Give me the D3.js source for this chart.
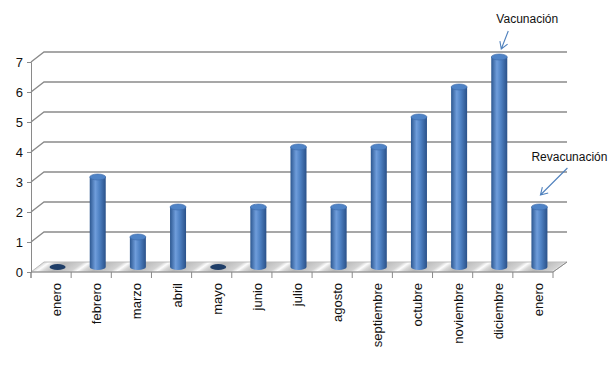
<!DOCTYPE html>
<html>
<head>
<meta charset="utf-8">
<script src="https://cdn.jsdelivr.net/npm/d3@7"></script>
<style>
  body { margin: 0; background: #fff; }
  svg { display: block; font-family: "Liberation Sans", Arial, sans-serif; }
</style>
</head>
<body>
<svg id="chart" width="610" height="388"></svg>
<script>
const months = ['enero', 'febrero', 'marzo', 'abril', 'mayo', 'junio', 'julio',
  'agosto', 'septiembre', 'octubre', 'noviembre', 'diciembre', 'enero'];
const counts = [0, 3, 1, 2, 0, 2, 4, 2, 4, 5, 6, 7, 2];
const yTicks = [0, 1, 2, 3, 4, 5, 6, 7];
const notes = [
  { text: 'Vacunación', index: 11 },
  { text: 'Revacunación', index: 12 },
];

const svg = d3.select('#chart');
const plotLeft = 31, plotRight = 553, plotTop = 62, plotBottom = 272;
const dx = 13, dy = -10; // depth offset of the back wall

const x = d3.scaleBand().domain(d3.range(months.length)).range([plotLeft, plotRight]);
const y = d3.scaleLinear().domain([0, 7]).range([plotBottom, plotTop]);

const defs = svg.append('defs');
const cyl = defs.append('linearGradient').attr('id', 'cyl');
cyl.append('stop').attr('offset', '0%').attr('stop-color', '#2c5790');
cyl.append('stop').attr('offset', '35%').attr('stop-color', '#6f9ddb');
cyl.append('stop').attr('offset', '60%').attr('stop-color', '#4f82c4');
cyl.append('stop').attr('offset', '100%').attr('stop-color', '#2a5189');

const floorGrad = defs.append('linearGradient').attr('id', 'floor')
  .attr('gradientUnits', 'userSpaceOnUse')
  .attr('x1', 0).attr('y1', 0).attr('x2', 40).attr('y2', 0)
  .attr('spreadMethod', 'repeat')
  .attr('gradientTransform', 'skewX(-55)');
floorGrad.append('stop').attr('offset', '0%').attr('stop-color', '#b8b8b8');
floorGrad.append('stop').attr('offset', '45%').attr('stop-color', '#d2d2d2');
floorGrad.append('stop').attr('offset', '60%').attr('stop-color', '#fdfdfd');
floorGrad.append('stop').attr('offset', '75%').attr('stop-color', '#d6d6d6');
floorGrad.append('stop').attr('offset', '100%').attr('stop-color', '#b8b8b8');

// floor
svg.append('path')
  .attr('d', `M${plotLeft},${plotBottom} L${plotLeft + dx},${plotBottom + dy} L${plotRight + dx + 1},${plotBottom + dy} L${plotRight},${plotBottom} Z`)
  .attr('fill', 'url(#floor)')
  .attr('stroke', '#bdbdbd');

// gridlines on the wall
svg.append('g').selectAll('path')
  .data(yTicks.filter(d => d > 0))
  .join('path')
  .attr('d', d => `M${plotLeft},${y(d)} L${plotLeft + dx},${y(d) + dy} L${plotRight + dx + 1},${y(d) + dy}`)
  .attr('fill', 'none')
  .attr('stroke', '#8a8a8a')
  .attr('stroke-width', 1.3);

// y axis
const yAxis = svg.append('g').attr('transform', `translate(${plotLeft},0)`)
  .call(d3.axisLeft(y).tickValues(yTicks).tickSize(4).tickPadding(4).tickFormat(d3.format('d')));
yAxis.select('.domain').attr('stroke', '#8a8a8a');
yAxis.selectAll('.tick line').attr('stroke', '#8a8a8a');
yAxis.selectAll('.tick text').attr('font-size', 13).attr('fill', '#111')
  .attr('font-family', '"Liberation Sans", Arial, sans-serif');
svg.append('line').attr('x1', plotLeft).attr('x2', plotLeft).attr('y1', plotBottom).attr('y2', plotBottom + 6).attr('stroke', '#8a8a8a');

// x axis with ticks at category boundaries
svg.append('line').attr('x1', plotLeft).attr('x2', plotRight).attr('y1', plotBottom).attr('y2', plotBottom)
  .attr('stroke', '#8a8a8a');
svg.append('line').attr('x1', plotRight).attr('x2', plotRight + dx + 1).attr('y1', plotBottom).attr('y2', plotBottom + dy)
  .attr('stroke', '#8a8a8a');
svg.append('g').selectAll('line')
  .data(d3.range(months.length + 1))
  .join('line')
  .attr('x1', i => plotLeft + i * x.step()).attr('x2', i => plotLeft + i * x.step())
  .attr('y1', plotBottom).attr('y2', plotBottom + 6)
  .attr('stroke', '#8a8a8a');

svg.append('g').selectAll('text')
  .data(months)
  .join('text')
  .attr('transform', (d, i) => `translate(${x(i) + x.bandwidth() / 2 + 10},${plotBottom + 11}) rotate(-90)`)
  .attr('text-anchor', 'end')
  .attr('font-size', 13)
  .attr('fill', '#111')
  .text(d => d);

// cylinders
const rx = 8, ry = 3;
const barData = counts.map((value, i) => ({ value, i }));
const cx = i => x(i) + x.bandwidth() / 2 + dx / 2;
const bars = svg.append('g').selectAll('g')
  .data(barData)
  .join('g');

bars.append('path')
  .attr('d', d => {
    if (d.value === 0) return '';
    const c = cx(d.i), yb = y(0) + dy / 2, yt = y(d.value) + dy / 2;
    return `M${c - rx},${yt} L${c - rx},${yb} A${rx},${ry} 0 0 0 ${c + rx},${yb} L${c + rx},${yt} Z`;
  })
  .attr('fill', 'url(#cyl)');

bars.append('ellipse')
  .attr('cx', d => cx(d.i))
  .attr('cy', d => y(d.value) + dy / 2)
  .attr('rx', rx).attr('ry', ry)
  .attr('fill', d => d.value > 0 ? '#4f83c6' : '#1f3e68')
  .attr('stroke', d => d.value > 0 ? '#3a68a8' : 'none')
  .attr('stroke-width', 0.6);

// annotations
const noteG = svg.append('g');
const arrow = (x1, y1, x2, y2) => {
  const a = Math.atan2(y2 - y1, x2 - x1), h = 8;
  noteG.append('path')
    .attr('d', `M${x1},${y1} L${x2},${y2} M${x2 + h * Math.cos(a + 2.6)},${y2 + h * Math.sin(a + 2.6)} L${x2},${y2} L${x2 + h * Math.cos(a - 2.6)},${y2 + h * Math.sin(a - 2.6)}`)
    .attr('fill', 'none').attr('stroke', '#4f81bd').attr('stroke-width', 1.1);
};
const v = notes[0], r = notes[1];
noteG.append('text').attr('x', cx(v.index) + 28).attr('y', 23).attr('text-anchor', 'middle')
  .attr('font-size', 12).attr('fill', '#111').text(v.text);
arrow(cx(v.index) + 9, 31, cx(v.index) + 2, y(counts[v.index]) + dy / 2 - 8);
noteG.append('text').attr('x', cx(r.index) + 30).attr('y', 161).attr('text-anchor', 'middle')
  .attr('font-size', 12).attr('fill', '#111').text(r.text);
arrow(cx(r.index) + 28, 168, cx(r.index) + 1, y(counts[r.index]) - 17);
</script>
</body>
</html>
